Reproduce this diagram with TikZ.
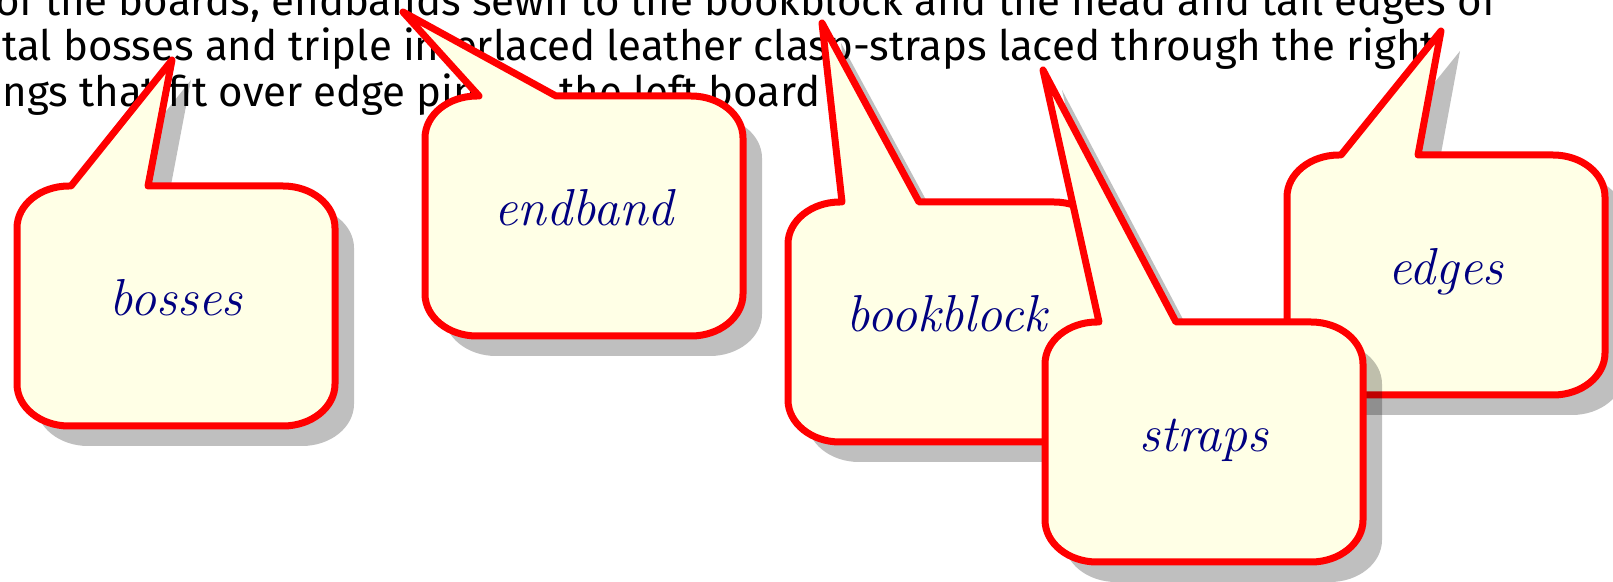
\documentclass[tikz,border=0pt]{standalone}
\usepackage{fontspec}
\newfontfamily\topfont{Fira Sans}
\definecolor{cred}{RGB}{255,0,0}
\definecolor{cfill}{RGB}{255,255,230}
\definecolor{cnavy}{RGB}{0,0,128}
\def\cshape{(\cbl,\cyA) -- (\ctx,\cty) -- (\cbr,\cyA) -- (\cxB-52,\cyA) .. controls (\cxB-23.3,\cyA) and (\cxB,\cyA+18.8) .. (\cxB,\cyA+42) -- (\cxB,\cyB-42) .. controls (\cxB,\cyB-18.8) and (\cxB-23.3,\cyB) .. (\cxB-52,\cyB) -- (\cxA+52,\cyB) .. controls (\cxA+23.3,\cyB) and (\cxA,\cyB-18.8) .. (\cxA,\cyB-42) -- (\cxA,\cyA+42) .. controls (\cxA,\cyA+18.8) and (\cxA+23.3,\cyA) .. (\cxA+52,\cyA) -- cycle}
\newcommand\callout[6]{%
  \pgfmathsetmacro\cxA{#2}%
  \pgfmathsetmacro\cyA{#3}%
  \pgfmathsetmacro\cxB{#2+318}%
  \pgfmathsetmacro\cyB{#3+240}%
  \pgfmathsetmacro\cbl{#2+54}%
  \pgfmathsetmacro\cbr{#2+131}%
  \def\ctx{#4}\def\cty{#5}%
  \fill[cshadow, shift={(19,20)}] \cshape;
  \draw[calloutbox] \cshape;
  \node[lbl] (#1) at (#2+159,#3+130) {#6};
}
\begin{document}
\begin{tikzpicture}[x=0.5pt,y=-0.5pt,
  calloutbox/.style={draw=cred, line width=3.5pt, fill=cfill, line join=round},
  cshadow/.style={fill=black, fill opacity=0.25},
  lbl/.style={text=cnavy, font=\fontsize{26}{30}\selectfont\itshape, anchor=base, inner sep=0pt},
  toptext/.style={font=\topfont\fontsize{21}{25}\selectfont, anchor=base west, inner sep=0pt}]
\useasboundingbox (0,0) rectangle (1613,582);
\clip (0,0) rectangle (1613,582);
\fill[white] (0,0) rectangle (1613,582);
\node[toptext] (line1) at (-5,16) {of the boards, endbands sewn to the bookblock and the head and tail edges of};
\node[toptext] (line2) at (2,61) {tal bosses and triple interlaced leather clasp-straps laced through the right};
\node[toptext] (line3) at (2,107) {ngs that fit over edge pins to the left board};
\callout{bosses}{17}{186}{172}{60}{bosses}
\callout{endband}{425}{96}{403}{12}{endband}
\callout{bookblock}{788}{202}{822}{23}{bookblock}
\callout{edges}{1287}{155}{1441}{31}{edges}
\callout{straps}{1045}{322}{1043}{70}{straps}
\end{tikzpicture}
\end{document}
